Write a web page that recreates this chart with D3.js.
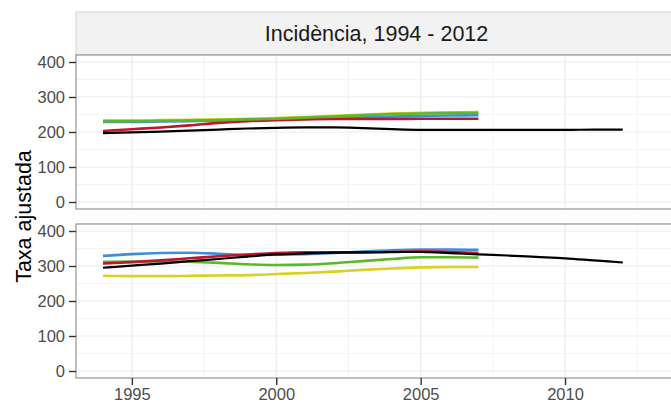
<!DOCTYPE html>
<html><head><meta charset="utf-8">
<script src="https://cdn.jsdelivr.net/npm/d3@7"></script>
<style>body{margin:0;background:#fff;}svg{display:block;font-family:"Liberation Sans",Arial,sans-serif;}</style>
</head><body>
<svg id="c" width="671" height="403"></svg>
<script>
const stripTitle = "Incidència, 1994 - 2012";
const yTitle = "Taxa ajustada";
const years = [1994,1995,1996,1997,1998,1999,2000,2001,2002,2003,2004,2005,2006,2007];
const yearsBlack = [1994,1995,1996,1997,1998,1999,2000,2001,2002,2003,2004,2005,2006,2007,2008,2009,2010,2011,2012];
const xTicks = [1995,2000,2005,2010];
const yTicks = [0,100,200,300,400];

// top panel
const topBlack  = [197,199,201,204,207,210,212,213,213,211,208,206,206,206,206,206,206,207,207];
const topRed    = [203,208,213,219,226,231,234,236,237,237,237,238,238,238];
const topBlue   = [229,229,230,231,232,234,236,238,240,242,244,246,247,248];
const topGreen  = [231,231,232,233,234,236,238,241,244,248,251,253,254,255];
const topYellow = [233,233,234,235,236,238,240,243,246,250,253,255,256,257];
// bottom panel
const botBlack  = [295,301,307,314,320,327,333,336,338,339,340,340,337,333,330,326,322,316,310];
const botRed    = [307,311,316,322,328,333,337,339,339,339,340,342,340,337];
const botBlue   = [329,334,337,338,335,331,332,334,337,341,345,347,347,346];
const botGreen  = [312,313,313,312,309,305,303,304,308,314,320,325,325,324];
const botYellow = [272,271,271,272,273,274,277,280,284,289,293,296,297,297];

const colors = {black:"#000000", red:"#C0162B", blue:"#3E8FD8", green:"#5CB82A", yellow:"#D7D225"};

const panels = [
  {y0:55, y1:209, series:[
    {c:"yellow", x:years, v:topYellow},{c:"blue", x:years, v:topBlue},{c:"red", x:years, v:topRed},
    {c:"green", x:years, v:topGreen},{c:"black", x:yearsBlack, v:topBlack}]},
  {y0:224, y1:378, series:[
    {c:"yellow", x:years, v:botYellow},{c:"green", x:years, v:botGreen},{c:"blue", x:years, v:botBlue},
    {c:"red", x:years, v:botRed},{c:"black", x:yearsBlack, v:botBlack}]}
];

const svg = d3.select("#c");
const px0 = 76, px1 = 690;
const x = d3.scaleLinear().domain([1994,2012]).range([103,622.8]);
const xMinor = [1992.5,1997.5,2002.5,2007.5,2012.5];
const yMinor = [50,150,250,350];

// strip
svg.append("rect").attr("x",px0).attr("y",12).attr("width",px1-px0).attr("height",43)
  .attr("fill","#F2F2F2").attr("stroke","#D4D4D4").attr("stroke-width",1);
svg.append("text").attr("x",(px0+677)/2).attr("y",33.5).attr("text-anchor","middle")
  .attr("dominant-baseline","central").attr("font-size","21.5px").attr("fill","#1a1a1a").text(stripTitle);

panels.forEach((p,i)=>{
  const y = d3.scaleLinear().domain([-20,420]).range([p.y1,p.y0]);
  const g = svg.append("g");
  g.append("rect").attr("x",px0).attr("y",p.y0).attr("width",px1-px0).attr("height",p.y1-p.y0).attr("fill","#fff");
  // minor grid
  g.selectAll(".hm").data(yMinor).join("line").attr("x1",px0).attr("x2",px1)
    .attr("y1",d=>y(d)).attr("y2",d=>y(d)).attr("stroke","#F4F4F4").attr("stroke-width",1);
  g.selectAll(".vm").data(xMinor.filter(d=>x(d)>px0)).join("line").attr("y1",p.y0).attr("y2",p.y1)
    .attr("x1",d=>x(d)).attr("x2",d=>x(d)).attr("stroke","#F4F4F4").attr("stroke-width",1);
  // major grid
  g.selectAll(".hM").data(yTicks).join("line").attr("x1",px0).attr("x2",px1)
    .attr("y1",d=>y(d)).attr("y2",d=>y(d)).attr("stroke","#EBEBEB").attr("stroke-width",1.2);
  g.selectAll(".vM").data(xTicks).join("line").attr("y1",p.y0).attr("y2",p.y1)
    .attr("x1",d=>x(d)).attr("x2",d=>x(d)).attr("stroke","#EBEBEB").attr("stroke-width",1.2);
  // lines
  const line = d3.line().curve(d3.curveMonotoneX);
  p.series.forEach(s=>{
    g.append("path").attr("d", line(s.x.map((yr,k)=>[x(yr), y(s.v[k])])))
      .attr("fill","none").attr("stroke",colors[s.c])
      .attr("stroke-width", s.c==="black"?2.2:2.6).attr("stroke-linecap","butt");
  });
  // border
  g.append("rect").attr("x",px0).attr("y",p.y0).attr("width",px1-px0).attr("height",p.y1-p.y0)
    .attr("fill","none").attr("stroke","#8A8A8A").attr("stroke-width",1.1);
  // y axis
  const ya = svg.append("g").attr("transform",`translate(${px0},0)`)
    .call(d3.axisLeft(y).tickValues(yTicks).tickSize(7).tickPadding(4));
  ya.select(".domain").remove();
  ya.selectAll("line").attr("stroke","#333").attr("stroke-width",1.4);
  ya.selectAll("text").attr("font-size","16.5px").attr("fill","#4D4D4D").attr("font-family","Liberation Sans, Arial, sans-serif");
  if(i===1){
    const xa = svg.append("g").attr("transform",`translate(0,${p.y1})`)
      .call(d3.axisBottom(x).tickValues(xTicks).tickFormat(d3.format("d")).tickSize(7).tickPadding(3));
    xa.select(".domain").remove();
    xa.selectAll("line").attr("stroke","#333").attr("stroke-width",1.4);
    xa.selectAll("text").attr("font-size","16.5px").attr("fill","#4D4D4D").attr("font-family","Liberation Sans, Arial, sans-serif");
  }
});

svg.append("text").attr("transform","translate(24,216.5) rotate(-90)").attr("text-anchor","middle")
  .attr("dominant-baseline","central").attr("font-size","21.5px").attr("fill","#000").text(yTitle);
</script>
</body></html>
